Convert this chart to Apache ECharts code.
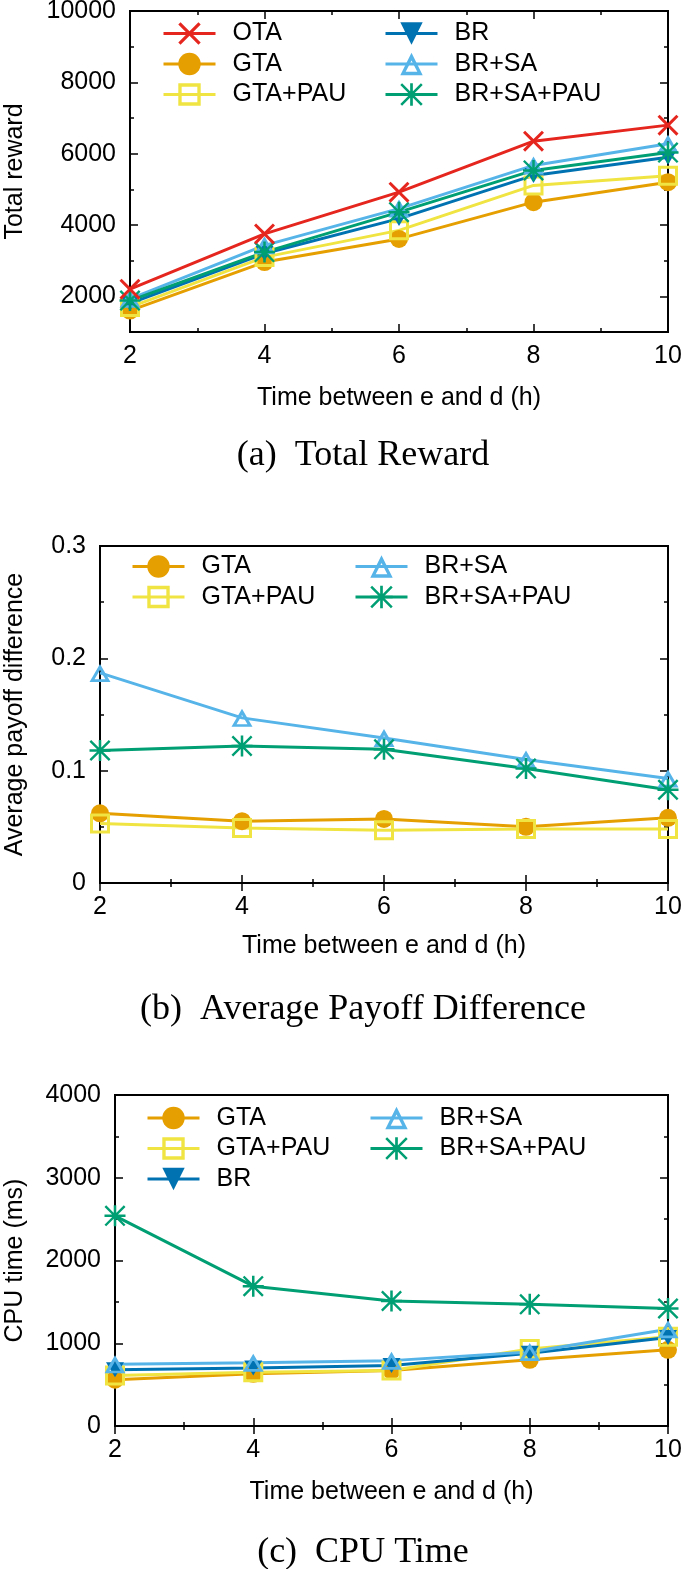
<!DOCTYPE html>
<html>
<head>
<meta charset="utf-8">
<script src="https://cdn.jsdelivr.net/npm/echarts@6/dist/echarts.min.js"></script>
<style>
  html, body { margin: 0; padding: 0; background: #fff; }
  #chart { width: 685px; height: 1569px; }
</style>
</head>
<body>
<div id="chart"></div>
<script>
const hours = [2, 4, 6, 8, 10];

// (a) total reward
const rewardOTA = [2200, 3750, 4920, 6350, 6800];
const rewardGTA = [1600, 2960, 3610, 4640, 5200];
const rewardGTAPAU = [1700, 3100, 3850, 5110, 5380];
const rewardBR = [1800, 3200, 4180, 5390, 5900];
const rewardBRSA = [1930, 3430, 4460, 5670, 6280];
const rewardBRSAPAU = [1880, 3240, 4360, 5530, 6030];
const rewardTicks = [2000, 4000, 6000, 8000, 10000];

// (b) average payoff difference
const payoffGTA = [0.062, 0.055, 0.057, 0.050, 0.058];
const payoffGTAPAU = [0.053, 0.049, 0.047, 0.048, 0.048];
const payoffBRSA = [0.187, 0.147, 0.129, 0.110, 0.093];
const payoffBRSAPAU = [0.118, 0.122, 0.119, 0.102, 0.083];

// (c) cpu time
const cpuGTA = [560, 630, 670, 800, 920];
const cpuGTAPAU = [610, 650, 670, 930, 1080];
const cpuBR = [680, 700, 730, 880, 1070];
const cpuBRSA = [745, 765, 790, 895, 1170];
const cpuBRSAPAU = [2540, 1690, 1510, 1470, 1420];

const FONT = "Liberation Sans";
const SERIF = "Liberation Serif";

const styles = {
  "OTA": { color: "#e5261f", symbol: "path://M0,10L10,0L50,40L90,0L100,10L60,50L100,90L90,100L50,60L10,100L0,90L40,50Z", size: 21 },
  "GTA": { color: "#e69f00", symbol: "circle", size: 18 },
  "GTA+PAU": { color: "#f0e442", symbol: "path://M0,0L100,0L100,100L0,100ZM15,15L15,85L85,85L85,15Z", size: 20 },
  "BR": { color: "#0072b2", symbol: "path://M0,0L100,0L50,100Z", size: [18, 15] },
  "BR+SA": { color: "#56b4e9", symbol: "path://M50,0L100,100L0,100ZM50,34L24,85L76,85Z", size: [21, 18] },
  "BR+SA+PAU": { color: "#009e73", symbol: "path://M44,0L56,0L56,100L44,100ZM0,44L100,44L100,56L0,56ZM0,8L8,0L100,92L92,100ZM92,0L100,8L8,100L0,92Z", size: 21 }
};

const grids = [
  { left: 130, right: 17, top: 11, height: 321 },
  { left: 100, right: 17, top: 546, height: 337 },
  { left: 115, right: 17, top: 1095, height: 331 }
];

const tickStyle = { color: "#000", width: 1.5 };
const labelStyle = { color: "#000", fontSize: 25, fontFamily: FONT };

const xAxes = [];
const yAxes = [];

function addX(grid, nameGap) {
  ["bottom", "top"].forEach((pos) => {
    const main = pos === "bottom";
    xAxes.push({
      type: "value", gridIndex: grid, position: pos, min: 2, max: 10, interval: 2,
      axisLine: { show: false }, splitLine: { show: false },
      axisTick: { inside: true, length: 8, lineStyle: tickStyle },
      minorTick: { show: true, splitNumber: 2, length: 4, lineStyle: tickStyle },
      axisLabel: Object.assign({ show: main, margin: 12 }, labelStyle),
      name: main ? "Time between e and d (h)" : "",
      nameLocation: "middle", nameGap: nameGap,
      nameTextStyle: labelStyle
    });
  });
  return xAxes.length - 2;
}

function addY(grid, cfg) {
  const first = yAxes.length;
  ["left", "right"].forEach((pos) => {
    const main = pos === "left";
    const ax = {
      type: "value", gridIndex: grid, position: pos, min: cfg.min, max: cfg.max, interval: cfg.interval,
      axisLine: { show: false }, splitLine: { show: false },
      axisTick: { inside: true, length: 8, lineStyle: tickStyle },
      axisLabel: Object.assign({ show: main, margin: 14, formatter: (v) => String(+v.toFixed(3)) }, labelStyle),
      name: main ? cfg.name : "",
      nameLocation: "middle", nameGap: cfg.nameGap,
      nameTextStyle: labelStyle
    };
    if (cfg.majors) {
      ax.axisTick.customValues = cfg.majors;
      ax.axisLabel.customValues = cfg.majors;
    } else {
      ax.minorTick = { show: true, splitNumber: 2, length: 4, lineStyle: tickStyle };
    }
    yAxes.push(ax);
  });
  if (cfg.majors) {
    // short ticks at every step
    ["left", "right"].forEach((pos) => {
      yAxes.push({
        type: "value", gridIndex: grid, position: pos, min: cfg.min, max: cfg.max, interval: cfg.interval,
        axisLine: { show: false }, splitLine: { show: false }, axisLabel: { show: false },
        axisTick: { inside: true, length: 4, lineStyle: tickStyle }
      });
    });
  }
  return first;
}

const series = [];
function addLine(name, values, xi, yi) {
  const s = styles[name];
  series.push({
    name: name, type: "line", xAxisIndex: xi, yAxisIndex: yi,
    data: hours.map((h, i) => [h, values[i]]),
    symbol: s.symbol, symbolSize: s.size, showSymbol: true,
    lineStyle: { color: s.color, width: 3 },
    itemStyle: { color: s.color, borderWidth: 0 },
    emphasis: { disabled: true },
    animation: false
  });
}

// panel (a)
let xi = addX(0, 54);
let yi = addY(0, { min: 1000, max: 10000, interval: 1000, majors: rewardTicks, name: "Total reward", nameGap: 102 });
addLine("GTA", rewardGTA, xi, yi);
addLine("GTA+PAU", rewardGTAPAU, xi, yi);
addLine("BR", rewardBR, xi, yi);
addLine("BR+SA", rewardBRSA, xi, yi);
addLine("BR+SA+PAU", rewardBRSAPAU, xi, yi);
addLine("OTA", rewardOTA, xi, yi);

// panel (b)
xi = addX(1, 51);
yi = addY(1, { min: 0, max: 0.3, interval: 0.1, name: "Average payoff difference", nameGap: 72 });
addLine("GTA", payoffGTA, xi, yi);
addLine("GTA+PAU", payoffGTAPAU, xi, yi);
addLine("BR+SA", payoffBRSA, xi, yi);
addLine("BR+SA+PAU", payoffBRSAPAU, xi, yi);

// panel (c)
xi = addX(2, 54);
yi = addY(2, { min: 0, max: 4000, interval: 1000, name: "CPU time (ms)", nameGap: 87 });
addLine("GTA", cpuGTA, xi, yi);
addLine("GTA+PAU", cpuGTAPAU, xi, yi);
addLine("BR", cpuBR, xi, yi);
addLine("BR+SA", cpuBRSA, xi, yi);
addLine("BR+SA+PAU", cpuBRSAPAU, xi, yi);

function legend(names, left, rowCenter) {
  return {
    data: names, left: left, top: rowCenter - 11, orient: "vertical", padding: 0,
    itemWidth: 52, itemHeight: 28, itemGap: 5.5, selectedMode: false,
    lineStyle: { width: 3 },
    textStyle: { color: "#000", fontSize: 25, fontFamily: FONT, lineHeight: 25, padding: [0, 0, 0, 12] }
  };
}

function caption(text, y) {
  return {
    type: "text", x: 363, y: y,
    style: { text: text, fill: "#000", font: "36px '" + SERIF + "'", textAlign: "center", textVerticalAlign: "middle" }
  };
}

const chart = echarts.init(document.getElementById("chart"), null, { renderer: "canvas" });
chart.setOption({
  animation: false,
  backgroundColor: "#fff",
  grid: grids.map((g) => Object.assign({ show: true, borderColor: "#000", borderWidth: 2, backgroundColor: "transparent", containLabel: false, outerBoundsMode: "none" }, g)),
  xAxis: xAxes,
  yAxis: yAxes,
  legend: [
    legend(["OTA", "GTA", "GTA+PAU"], 162, 32),
    legend(["BR", "BR+SA", "BR+SA+PAU"], 384, 32),
    legend(["GTA", "GTA+PAU"], 131, 565),
    legend(["BR+SA", "BR+SA+PAU"], 354, 565),
    legend(["GTA", "GTA+PAU", "BR"], 146, 1116.5),
    legend(["BR+SA", "BR+SA+PAU"], 369, 1116.5)
  ],
  series: series,
  graphic: [
    caption("(a)  Total Reward", 456),
    caption("(b)  Average Payoff Difference", 1010),
    caption("(c)  CPU Time", 1553)
  ]
});
</script>
</body>
</html>
